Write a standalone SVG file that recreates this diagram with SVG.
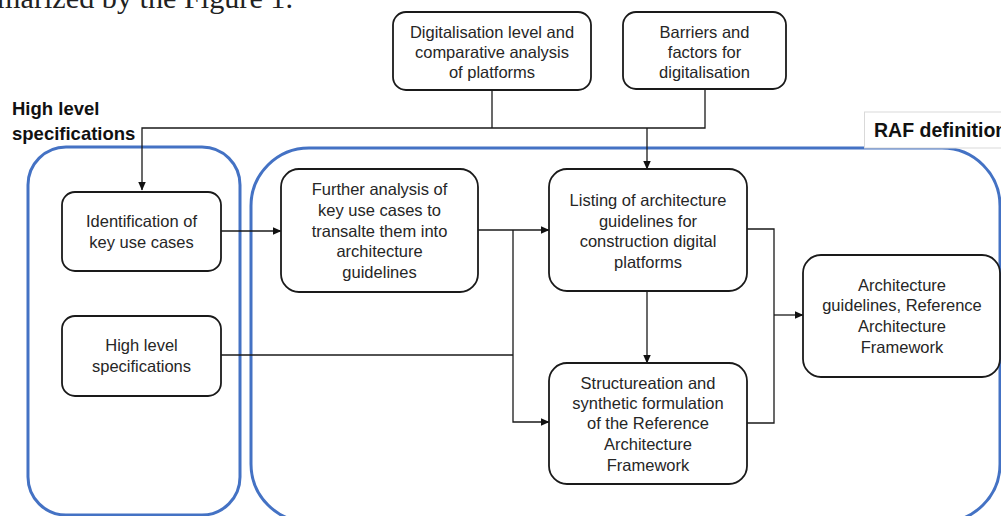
<svg xmlns="http://www.w3.org/2000/svg" width="1001" height="516" viewBox="0 0 1001 516">
<style>
.box{fill:#fff;stroke:#1a1a1a;stroke-width:1.8}
.cont{fill:none;stroke:#4472C4;stroke-width:3}
.t{font-family:"Liberation Sans",Arial,sans-serif;font-size:16.5px;fill:#262626;text-anchor:middle}
.h{font-family:"Liberation Sans",Arial,sans-serif;font-weight:bold;fill:#111}
.c{fill:none;stroke:#1a1a1a;stroke-width:1.3}
</style>
<defs>
<marker id="a" markerWidth="9" markerHeight="8" refX="8.5" refY="4" orient="auto" markerUnits="userSpaceOnUse">
<path d="M0,0 L9,4 L0,8 Z" fill="#111"/>
</marker>
</defs>
<rect width="1001" height="516" fill="#fff"/>
<text x="-3" y="8" font-family="Liberation Serif,serif" font-size="29" fill="#222" textLength="296" lengthAdjust="spacingAndGlyphs">marized by the Figure 1.</text>

<g id="containers">
<rect class="cont" x="28" y="147" width="212" height="368" rx="38"/>
<rect class="cont" x="251" y="148" width="749" height="374" rx="58"/>
</g>
<g id="label-hls"><text class="h" x="12" y="115" font-size="18.5">High level</text><text class="h" x="12" y="140" font-size="18.5">specifications</text></g>
<g id="label-raf"><rect x="864.5" y="112" width="140" height="36" fill="#fff" stroke="#d9d9d9" stroke-width="1"/><text class="h" x="874" y="137" font-size="19.5">RAF definition</text></g>

<g id="connectors">
<path class="c" d="M492,90 V128 M705,89 V128 H142 V190" marker-end="url(#a)"/>
<path class="c" d="M647,128 V169" marker-end="url(#a)"/>
<path class="c" d="M221,231 H281" marker-end="url(#a)"/>
<path class="c" d="M478,230 H549" marker-end="url(#a)"/>
<path class="c" d="M513,230 V422 H549" marker-end="url(#a)"/>
<path class="c" d="M221,355 H513"/>
<path class="c" d="M647,291 V363" marker-end="url(#a)"/>
<path class="c" d="M747,229 H774 V423 H747"/>
<path class="c" d="M774,315 H803" marker-end="url(#a)"/>
</g>

<g id="n-digit"><rect class="box" x="393" y="12" width="198" height="78" rx="13"/>
<text class="t" x="492" y="37.5">Digitalisation level and</text><text class="t" x="492" y="57.5">comparative analysis</text><text class="t" x="492" y="77.5">of platforms</text></g>
<g id="n-barriers"><rect class="box" x="623" y="12" width="163" height="77" rx="13"/>
<text class="t" x="704.5" y="37.5">Barriers and</text><text class="t" x="704.5" y="57.5">factors for</text><text class="t" x="704.5" y="77.5">digitalisation</text></g>
<g id="n-ident"><rect class="box" x="62" y="192" width="159" height="79" rx="13"/>
<text class="t" x="141.5" y="227">Identification of</text><text class="t" x="141.5" y="248">key use cases</text></g>
<g id="n-hls"><rect class="box" x="62" y="316" width="159" height="80" rx="13"/>
<text class="t" x="141.5" y="351">High level</text><text class="t" x="141.5" y="372">specifications</text></g>
<g id="n-further"><rect class="box" x="281" y="169" width="197" height="123" rx="18"/>
<text class="t" x="379.5" y="195">Further analysis of</text><text class="t" x="379.5" y="216">key use cases to</text><text class="t" x="379.5" y="237">transalte them into</text><text class="t" x="379.5" y="257">architecture</text><text class="t" x="379.5" y="278">guidelines</text></g>
<g id="n-listing"><rect class="box" x="549" y="169" width="198" height="122" rx="18"/>
<text class="t" x="648" y="206">Listing of architecture</text><text class="t" x="648" y="227">guidelines for</text><text class="t" x="648" y="247">construction digital</text><text class="t" x="648" y="268">platforms</text></g>
<g id="n-struct"><rect class="box" x="549" y="363" width="198" height="121" rx="18"/>
<text class="t" x="648" y="389">Structureation and</text><text class="t" x="648" y="409">synthetic formulation</text><text class="t" x="648" y="429">of the Reference</text><text class="t" x="648" y="450">Architecture</text><text class="t" x="648" y="471">Framework</text></g>
<g id="n-arch"><rect class="box" x="803" y="255" width="197" height="122" rx="18"/>
<text class="t" x="902" y="291">Architecture</text><text class="t" x="902" y="311">guidelines, Reference</text><text class="t" x="902" y="332">Architecture</text><text class="t" x="902" y="353">Framework</text></g>
</svg>
